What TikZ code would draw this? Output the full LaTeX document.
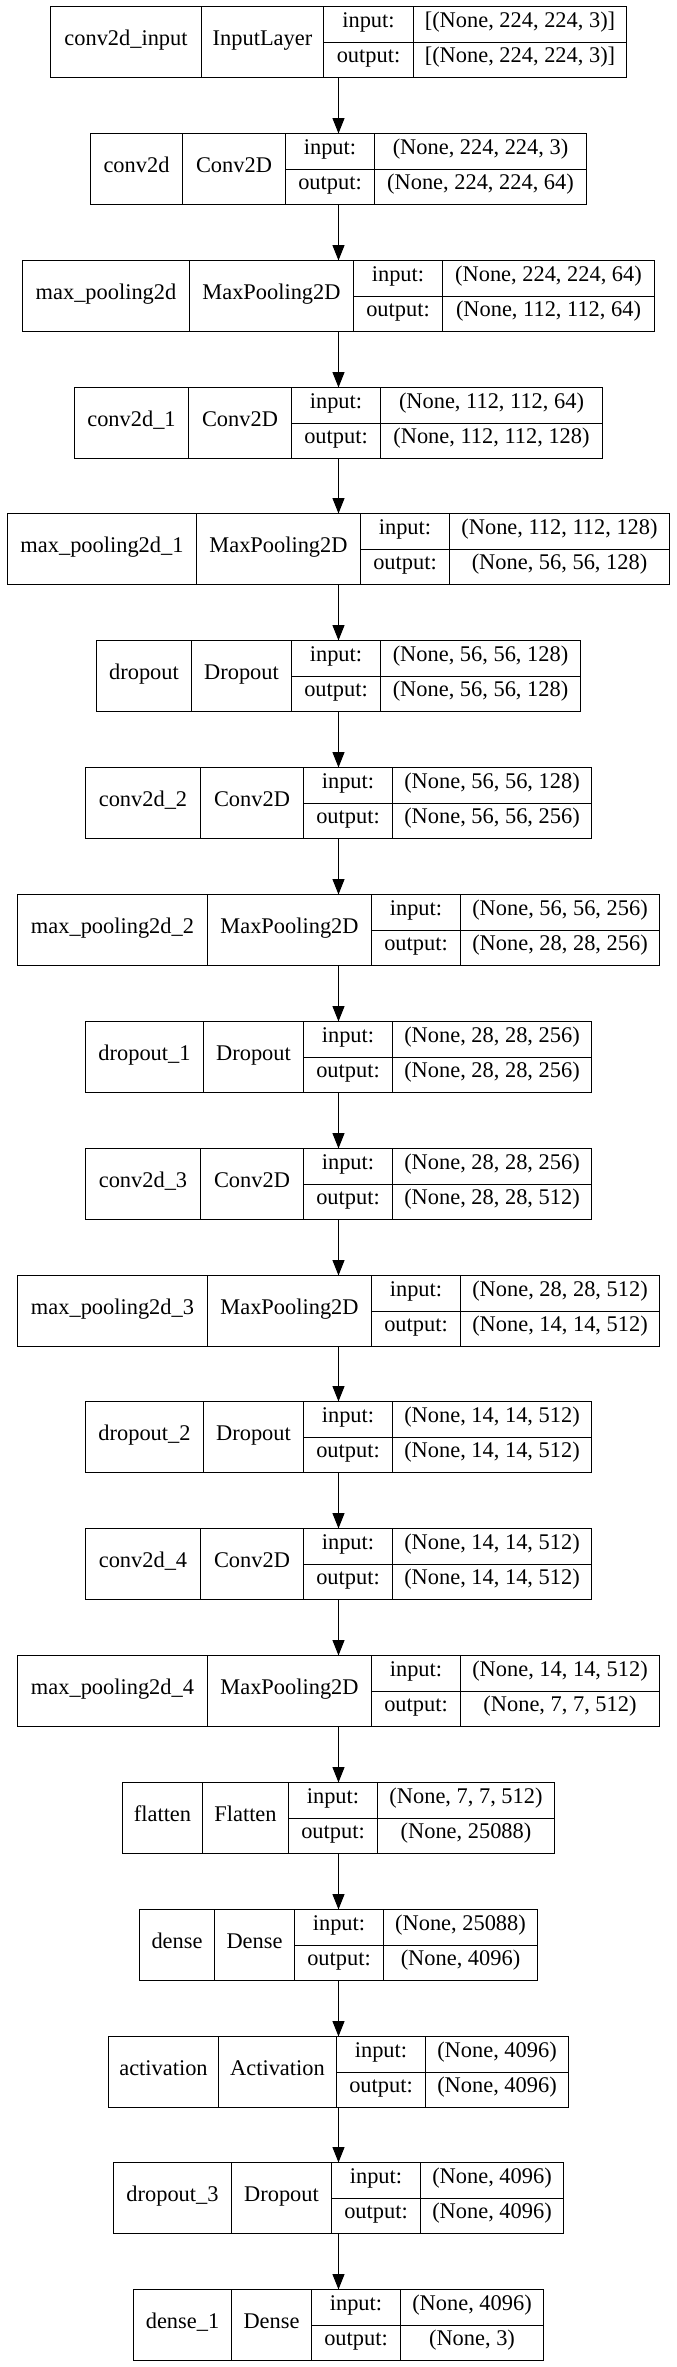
\documentclass[tikz,border=0pt]{standalone}
\usepackage{fontspec}
\setmainfont{Liberation Serif}
\usetikzlibrary{arrows.meta}
\newcommand\nnlayer[9]{%
  \pgfmathsetmacro\Ltot{#2+#3+#4+#5}%
  \pgfmathsetmacro\La{round(338-\Ltot/2)+0.5}%
  \pgfmathsetmacro\Lb{round(\La+#2)+0.5}%
  \pgfmathsetmacro\Lc{round(\Lb+#3)+0.5}%
  \pgfmathsetmacro\Ld{round(\Lc+#4)+0.5}%
  \pgfmathsetmacro\Le{677-\La}%
  \pgfmathsetmacro\Lw{\Le-\La}%
  \pgfmathsetmacro\Lt{round(6+126.85*#1)+0.5}%
  \pgfmathsetmacro\Lm{round(\Lt+35.25)+0.5}%
  \pgfmathsetmacro\Lbot{\Lt+71}%
  \node[layerbox, minimum width=\Lw pt, anchor=north west] (L#1) at (\La,\Lt) {};
  \draw[rule] (\Lb,\Lt) -- (\Lb,\Lbot) (\Lc,\Lt) -- (\Lc,\Lbot)
              (\Ld,\Lt) -- (\Ld,\Lbot) (\Lc,\Lm) -- (\Le,\Lm);
  \node[lbl] (L#1n) at ({(\La+\Lb)/2},{(\Lt+\Lbot)/2}) {#6};
  \node[lbl] (L#1c) at ({(\Lb+\Lc)/2},{(\Lt+\Lbot)/2}) {#7};
  \node[lbl] (L#1i) at ({(\Lc+\Ld)/2},\Lt+17.6) {input:};
  \node[lbl] (L#1o) at ({(\Lc+\Ld)/2},\Lt+52.9) {output:};
  \node[lbl] (L#1is) at ({(\Ld+\Le)/2},\Lt+17.6) {#8};
  \node[lbl] (L#1os) at ({(\Ld+\Le)/2},\Lt+52.9) {#9};
}
\begin{document}
\begin{tikzpicture}[x=1pt,y=-1pt,
  layerbox/.style={draw, line width=1.2pt, inner sep=0pt, outer sep=0pt, minimum height=71pt},
  rule/.style={line width=1.2pt},
  lbl/.style={inner sep=0pt, text height=0.69em, text depth=0pt, font=\fontsize{22.4}{26}\selectfont},
  arr/.style={line width=1.2pt, -{Triangle[length=15.5pt,width=12pt]}}]
\fill[white] (0,0) rectangle (677,2367);
\useasboundingbox (0,0) rectangle (677,2367);
\nnlayer{0}{150}{121.5}{89.2}{214.7}{conv2d\_input}{InputLayer}{[(None, 224, 224, 3)]}{[(None, 224, 224, 3)]}
\nnlayer{1}{91.3}{102.2}{88.4}{213.7}{conv2d}{Conv2D}{(None, 224, 224, 3)}{(None, 224, 224, 64)}
\nnlayer{2}{166.4}{163.3}{88.4}{213.3}{max\_pooling2d}{MaxPooling2D}{(None, 224, 224, 64)}{(None, 112, 112, 64)}
\nnlayer{3}{113.9}{102}{88.4}{222.9}{conv2d\_1}{Conv2D}{(None, 112, 112, 64)}{(None, 112, 112, 128)}
\nnlayer{4}{188.8}{163}{88.8}{221.4}{max\_pooling2d\_1}{MaxPooling2D}{(None, 112, 112, 128)}{(None, 56, 56, 128)}
\nnlayer{5}{94.3}{99.7}{88.3}{201.7}{dropout}{Dropout}{(None, 56, 56, 128)}{(None, 56, 56, 128)}
\nnlayer{6}{114.2}{102.2}{88.8}{200.8}{conv2d\_2}{Conv2D}{(None, 56, 56, 128)}{(None, 56, 56, 256)}
\nnlayer{7}{189.2}{163.4}{88.3}{201.3}{max\_pooling2d\_2}{MaxPooling2D}{(None, 56, 56, 256)}{(None, 28, 28, 256)}
\nnlayer{8}{117.2}{99.2}{88.8}{200.8}{dropout\_1}{Dropout}{(None, 28, 28, 256)}{(None, 28, 28, 256)}
\nnlayer{9}{114.2}{102.2}{88.8}{200.8}{conv2d\_3}{Conv2D}{(None, 28, 28, 256)}{(None, 28, 28, 512)}
\nnlayer{10}{189.2}{163.4}{88.3}{201.3}{max\_pooling2d\_3}{MaxPooling2D}{(None, 28, 28, 512)}{(None, 14, 14, 512)}
\nnlayer{11}{117.2}{99.2}{88.8}{200.8}{dropout\_2}{Dropout}{(None, 14, 14, 512)}{(None, 14, 14, 512)}
\nnlayer{12}{114.2}{102.2}{88.8}{200.8}{conv2d\_4}{Conv2D}{(None, 14, 14, 512)}{(None, 14, 14, 512)}
\nnlayer{13}{189.2}{163.4}{88.3}{201.3}{max\_pooling2d\_4}{MaxPooling2D}{(None, 14, 14, 512)}{(None, 7, 7, 512)}
\nnlayer{14}{79.3}{85.3}{88.4}{178.9}{flatten}{Flatten}{(None, 7, 7, 512)}{(None, 25088)}
\nnlayer{15}{74.6}{79.7}{88.3}{155.6}{dense}{Dense}{(None, 25088)}{(None, 4096)}
\nnlayer{16}{109.9}{117.8}{88.3}{144.8}{activation}{Activation}{(None, 4096)}{(None, 4096)}
\nnlayer{17}{117}{99.7}{88.3}{144.5}{dropout\_3}{Dropout}{(None, 4096)}{(None, 4096)}
\nnlayer{18}{97.2}{79.5}{88.3}{144.4}{dense\_1}{Dense}{(None, 4096)}{(None, 3)}
\foreach \i [evaluate=\i as \j using int(\i+1)] in {0,...,17}
  \draw[arr] (L\i.south) -- (L\j.north);
\end{tikzpicture}
\end{document}
